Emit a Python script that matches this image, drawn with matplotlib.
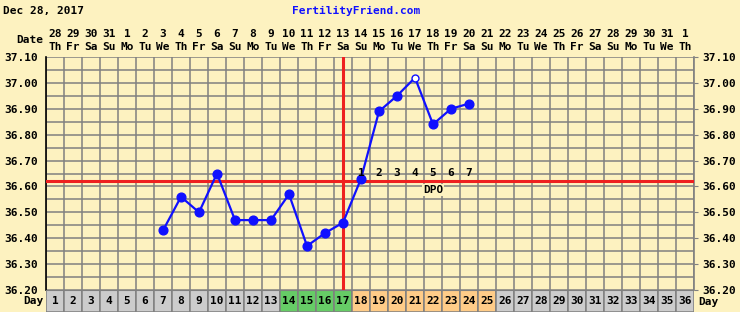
import matplotlib
matplotlib.use("Agg")
import matplotlib.pyplot as plt
from matplotlib.patches import Rectangle

# ---- data ----
days = list(range(1, 37))
dom = [28, 29, 30, 31] + list(range(1, 32)) + [1]
dow_cycle = ["Th", "Fr", "Sa", "Su", "Mo", "Tu", "We"]
weekdays = [dow_cycle[i % 7] for i in range(36)]
temp_days = [7, 8, 9, 10, 11, 12, 13, 14, 15, 16, 17, 18, 19, 20, 21, 22, 23, 24]
temps = [36.43, 36.56, 36.50, 36.65, 36.47, 36.47, 36.47, 36.57, 36.37, 36.42,
         36.46, 36.63, 36.89, 36.95, 37.02, 36.84, 36.90, 36.92]
hollow_days = [21]
coverline = 36.62
ovulation_day = 17
dpo_days = [18, 19, 20, 21, 22, 23, 24]
dpo_labels = ["1", "2", "3", "4", "5", "6", "7"]
green_days = [14, 15, 16, 17]
orange_days = [18, 19, 20, 21, 22, 23, 24, 25]
yticks = [36.20, 36.30, 36.40, 36.50, 36.60, 36.70, 36.80, 36.90, 37.00, 37.10]
ylabels = ["%.2f" % v for v in yticks]
title_date = "Dec 28, 2017"
site = "FertilityFriend.com"

BG = "#fdf2c0"
GRID = "#808080"
W, H = 740, 312
FONT = "DejaVu Sans Mono"
FS = 8

fig = plt.figure(figsize=(W / 100, H / 100), dpi=100, facecolor=BG)

L, R, T, B = 46, 694, 57, 290
ax = fig.add_axes([L / W, (H - B) / H, (R - L) / W, (B - T) / H])
ax.set_facecolor(BG)
ax.set_xlim(0.5, 36.5)
ax.set_ylim(36.2, 37.1)

# grid
for i in range(37):
    ax.axvline(0.5 + i, color=GRID, lw=1.1, zorder=1)
y = 36.2
while y < 37.11:
    ax.axhline(y, color=GRID, lw=1.1, zorder=1)
    y = round(y + 0.05, 2)

# coverline and ovulation
ax.axhline(coverline, color="#ee2020", lw=2.2, zorder=3)
ax.axvline(ovulation_day, color="#ee2020", lw=2.2, zorder=3)

# temps
ax.plot(temp_days, temps, color="#1010ff", lw=1.6, zorder=4)
filled_x = [d for d in temp_days if d not in hollow_days]
filled_y = [t for d, t in zip(temp_days, temps) if d not in hollow_days]
ax.plot(filled_x, filled_y, "o", color="#1010ff", ms=6.3, zorder=5)
hx = [d for d in temp_days if d in hollow_days]
hy = [t for d, t in zip(temp_days, temps) if d in hollow_days]
ax.plot(hx, hy, "o", mfc="white", mec="#1010ff", ms=5, mew=1, zorder=5)

# DPO labels
for d, lab in zip(dpo_days, dpo_labels):
    ax.text(d, coverline + 0.012, lab, ha="center", va="bottom", family=FONT,
            fontweight="bold", fontsize=FS, zorder=6)
ax.text(22, coverline - 0.014, "DPO", ha="center", va="top", family=FONT,
        fontweight="bold", fontsize=FS, zorder=6,
        bbox=dict(boxstyle="square,pad=0.1", fc=BG, ec="none"))

ax.set_xticks([])
ax.set_yticks(yticks)
ax.set_yticklabels(ylabels, family=FONT, fontweight="bold", fontsize=FS)
ax.tick_params(axis="y", left=False, pad=3)
ax.tick_params(axis="y", right=True, labelright=True)
ax.yaxis.set_tick_params(which="major", length=3, color=GRID)
ax.tick_params(axis="y", left=False)
for s in ["top", "bottom"]:
    ax.spines[s].set_visible(False)
ax.spines["left"].set_color("black")
ax.spines["left"].set_linewidth(1.2)
ax.spines["right"].set_color(GRID)
ax.spines["right"].set_linewidth(1.2)

# day row
ax2 = fig.add_axes([L / W, 0, (R - L) / W, (H - B) / H])
ax2.set_xlim(0.5, 36.5)
ax2.set_ylim(0, 1)
ax2.axis("off")
for d in days:
    c = "#cccccc"
    if d in green_days:
        c = "#66cc66"
    elif d in orange_days:
        c = "#ffcc88"
    ax2.add_patch(Rectangle((d - 0.5, 0), 1, 1, fc=c, ec=GRID, lw=1.1))
    ax2.text(d, 0.5, str(d), ha="center", va="center", family=FONT,
             fontweight="bold", fontsize=FS)
ax2.axhline(1, color=GRID, lw=1.5)

# header dates
for d, n, wd in zip(days, dom, weekdays):
    xf = (L + (d - 0.5) * 18) / W
    fig.text(xf, 1 - 34 / H, str(n), ha="center", va="center", family=FONT,
             fontweight="bold", fontsize=FS)
    fig.text(xf, 1 - 47 / H, wd, ha="center", va="center", family=FONT,
             fontweight="bold", fontsize=FS)

fig.text(43 / W, 1 - 40 / H, "Date", ha="right", va="center", family=FONT,
         fontweight="bold", fontsize=FS)
fig.text(3 / W, 1 - 11 / H, title_date, ha="left", va="center", family=FONT,
         fontweight="bold", fontsize=FS)
fig.text(356 / W, 1 - 11 / H, site, ha="center", va="center", family=FONT,
         fontweight="bold", fontsize=FS, color="#1010ff")
fig.text(43 / W, 1 - 301 / H, "Day", ha="right", va="center", family=FONT,
         fontweight="bold", fontsize=FS)
fig.text(698 / W, 1 - 302 / H, "Day", ha="left", va="center", family=FONT,
         fontweight="bold", fontsize=FS)

fig.savefig("out.png", dpi=100, facecolor=BG)
